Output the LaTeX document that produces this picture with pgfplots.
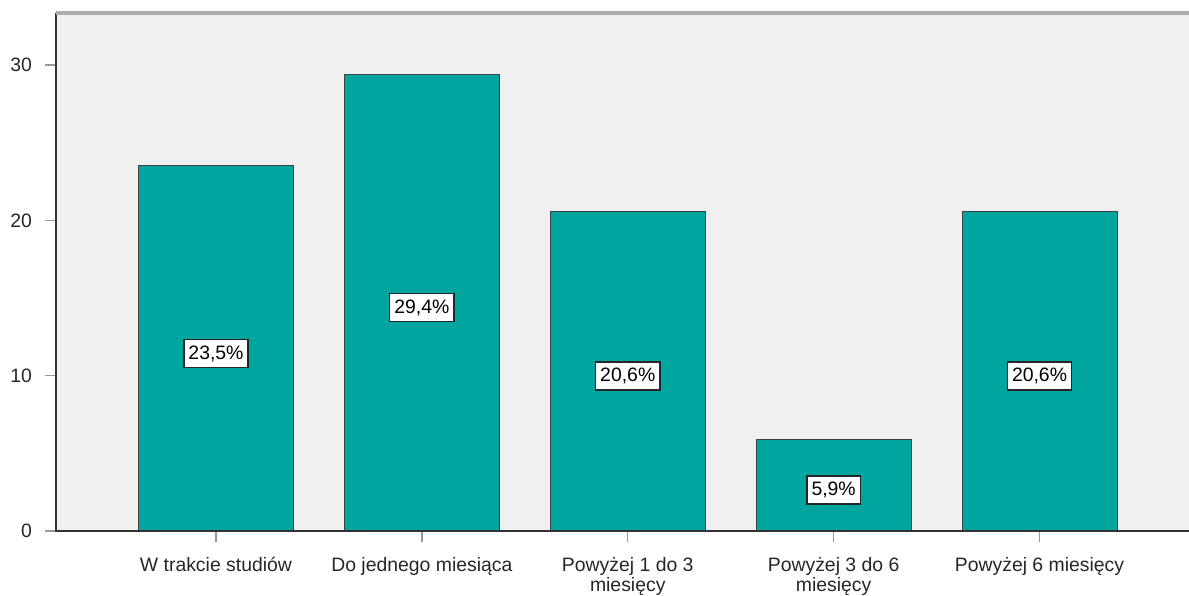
\documentclass[border=0pt]{standalone}
\usepackage{fontspec}
\setmainfont{Liberation Sans}
\usepackage{pgfplots}
\pgfplotsset{compat=1.18}
\usetikzlibrary{calc}
\definecolor{barteal}{HTML}{00A5A0}
\definecolor{bgc}{HTML}{F0F0F0}
\begin{document}
\begin{tikzpicture}
\begin{axis}[name=ax, scale only axis, width=566.5pt, height=259pt,
  xmin=-0.777, xmax=4.726, ymin=0, ymax=33.35,
  axis background/.style={fill=bgc},
  axis line style={draw=none},
  xtick={0,1,2,3,4},
  xticklabels={W trakcie studiów, Do jednego miesiąca, {Powyżej 1 do 3\\miesięcy}, {Powyżej 3 do 6\\miesięcy}, Powyżej 6 miesięcy},
  xticklabel style={align=center, font=\fontsize{9.7}{9}\selectfont, text=black!85},
  xticklabel shift=4pt,
  ytick={0,10,20,30},
  yticklabel style={font=\fontsize{9.7}{11}\selectfont, text=black!85},
  yticklabel shift=3pt,
  /pgf/number format/assume math mode=true,
  tick align=outside, major tick length=5.5pt,
  xtick pos=bottom, ytick pos=left,
  every tick/.style={draw=gray!80, line width=0.7pt},
  clip=false,
]
\addplot[ybar, bar width=0.753, fill=barteal, draw=black!75, line width=0.5pt]
  coordinates {(0,23.5) (1,29.4) (2,20.6) (3,5.9) (4,20.6)};
\addplot[only marks, mark=none, draw=none, nodes near coords, point meta=explicit symbolic,
  every node near coord/.style={anchor=center, yshift=-2.5pt, fill=white, draw=black!85, line width=0.7pt, inner xsep=2.3pt, inner ysep=3pt, font=\fontsize{9.7}{11}\selectfont, text=black}]
  table[meta=label] {
x y label
0 11.75 23,5\%
1 14.7 29,4\%
2 10.3 20,6\%
3 2.95 5,9\%
4 10.3 20,6\%
};
\draw[black!80, line width=1pt] (rel axis cs:0,1) -- (rel axis cs:0,0) -- (rel axis cs:1,0);
\draw[gray!65, line width=1.6pt] (rel axis cs:0,1) -- (rel axis cs:1,1);
\end{axis}
\pgfresetboundingbox
\path[use as bounding box] ($(ax.south west)+(-28pt,-32pt)$) rectangle ($(ax.north east)+(0pt,6.5pt)$);
\end{tikzpicture}
\end{document}
